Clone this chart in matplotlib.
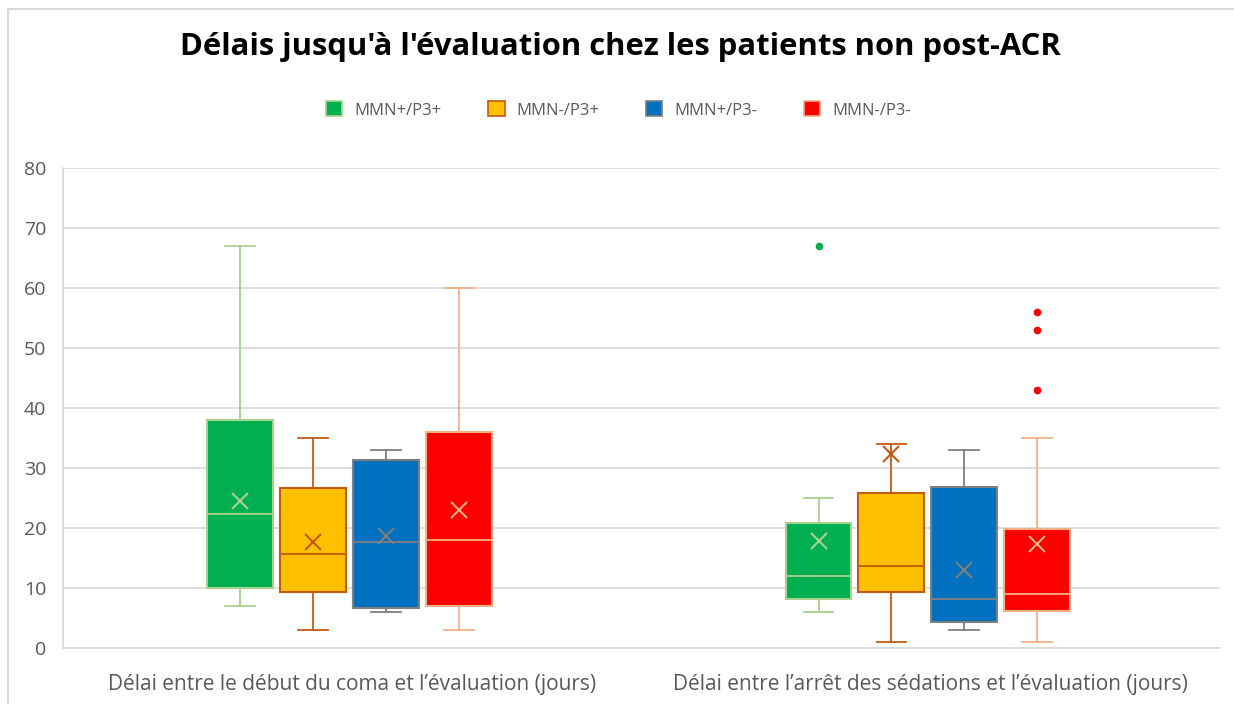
import numpy as np
import matplotlib.pyplot as plt
from matplotlib.patches import Patch
from matplotlib.lines import Line2D

# Catégories et séries
categories = ["Délai entre le début du coma et l’évaluation (jours)",
              "Délai entre l’arrêt des sédations et l’évaluation (jours)"]
series = ["MMN+/P3+", "MMN-/P3+", "MMN+/P3-", "MMN-/P3-"]

# Statistiques (une liste par série, une valeur par catégorie)
whislo = [[7, 6], [3, 1], [6, 3], [3, 1]]
q1 = [[10, 8.1], [9.4, 9.4], [6.7, 4.4], [7, 6.2]]
med = [[22.3, 12], [15.7, 13.7], [17.6, 8.1], [18, 9]]
q3 = [[38, 20.8], [26.6, 25.9], [31.4, 26.9], [36, 19.8]]
whishi = [[67, 25], [35, 34], [33, 33], [60, 35]]
means = [[24.5, 17.9], [17.6, 32.4], [18.7, 13], [23, 17.4]]
fliers = [[[], [67]], [[], []], [[], []], [[], [56, 53, 43]]]

fills = ["#00B050", "#FFC000", "#0070C0", "#FF0000"]
edges = ["#A9D18E", "#C55A11", "#7F7F7F", "#F4B183"]

plt.rcParams['font.family'] = ['Open Sans', 'DejaVu Sans']

fig = plt.figure(figsize=(12.34, 7.04), dpi=100)
ax = fig.add_axes([63 / 1234, 1 - 648 / 704, (1220 - 63) / 1234, (648 - 168) / 704])

width = 0.114
step = 0.126
for s in range(len(series)):
    stats = []
    for c in range(len(categories)):
        stats.append(dict(whislo=whislo[s][c], q1=q1[s][c], med=med[s][c], q3=q3[s][c],
                          whishi=whishi[s][c], mean=means[s][c], fliers=fliers[s][c]))
    pos = [c - 0.005 + (s - 1.5) * step for c in range(len(categories))]
    ec = edges[s]
    ax.bxp(stats, positions=pos, widths=width, patch_artist=True, showmeans=True,
           boxprops=dict(facecolor=fills[s], edgecolor=ec, linewidth=1.5),
           medianprops=dict(color=ec, linewidth=1.3),
           whiskerprops=dict(color=ec, linewidth=1.3),
           capprops=dict(color=ec, linewidth=1.3),
           capwidths=width * 0.45,
           meanprops=dict(marker='x', markeredgecolor=ec, markersize=12, markeredgewidth=1.5),
           flierprops=dict(marker='o', markerfacecolor=fills[s], markeredgecolor=fills[s],
                           markersize=4.5),
           manage_ticks=False, zorder=3)

ax.set_xlim(-0.5, 1.5)
ax.set_ylim(0, 80)
ax.set_yticks(np.arange(0, 81, 10))
ax.set_xticks(range(len(categories)))
ax.set_xticklabels(categories)
ax.tick_params(axis='both', length=0, colors='#595959')
ax.tick_params(axis='x', pad=19, labelsize=15)
ax.tick_params(axis='y', pad=12, labelsize=14)
ax.grid(axis='y', color='#D9D9D9', linewidth=1.2, zorder=0)
ax.set_axisbelow(True)
for side in ['top', 'right']:
    ax.spines[side].set_visible(False)
for side in ['left', 'bottom']:
    ax.spines[side].set_color('#D9D9D9')
    ax.spines[side].set_linewidth(1.2)

fig.text(0.503, 1 - 47 / 704, "Délais jusqu'à l'évaluation chez les patients non post-ACR",
         ha='center', va='center', fontsize=22.3, fontweight='bold', color='black')

handles = [Patch(facecolor=fills[i], edgecolor=edges[i], linewidth=1.2) for i in range(len(series))]
fig.legend(handles, series, loc='center', bbox_to_anchor=(0.501, 1 - 110 / 704), ncol=4,
           frameon=False, fontsize=12, labelcolor='#595959', handlelength=1.0, handleheight=1.0,
           columnspacing=2.8, handletextpad=0.7)

# cadre du graphique
fig.add_artist(Line2D([8 / 1234, 8 / 1234], [0, 1 - 9 / 704], color='#D9D9D9', linewidth=1.5))
fig.add_artist(Line2D([8 / 1234, 1], [1 - 9 / 704, 1 - 9 / 704], color='#D9D9D9', linewidth=1.5))

fig.savefig('out.png', dpi=100)
